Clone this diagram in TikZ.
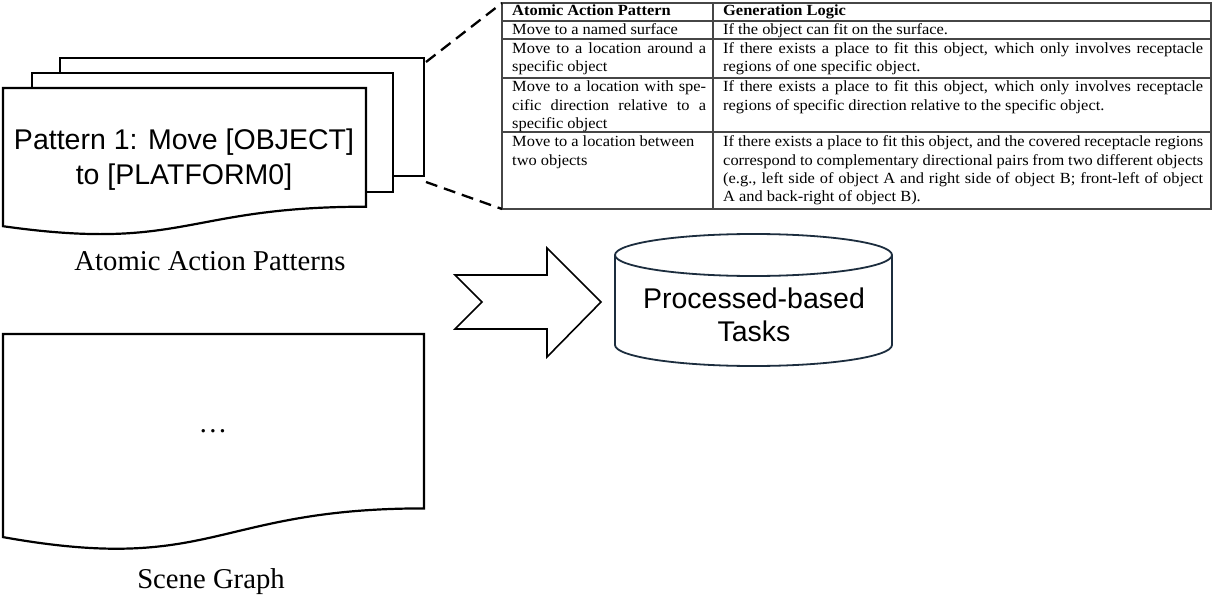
\documentclass[tikz,border=0pt]{standalone}
\usepackage{fontspec}
\setmainfont{Liberation Serif}
\newfontfamily\arialf{Liberation Sans}
\newfontfamily\tabfont[FakeStretch=1.06]{Liberation Serif}
\newcommand\jla[1]{\makebox[194pt][s]{#1}}
\newcommand\jlb[1]{\makebox[480pt][s]{#1}}
\definecolor{cylcol}{RGB}{28,45,62}
\definecolor{gridcol}{RGB}{70,70,70}
\tikzset{
  sheet/.style={draw=black, line width=2.2pt, fill=white, line join=miter},
  grid/.style={draw=gridcol, line width=1.1pt},
  tcell/.style={anchor=base west, inner sep=0pt, align=left,
    font=\tabfont\fontsize{15.5}{18.3}\selectfont,
    execute at begin node={\spaceskip=0.26em plus 0.5em minus 0.12em\relax}},
  colA/.style={tcell, text width=194pt},
  colB/.style={tcell, text width=480pt},
  sanslabel/.style={font=\arialf\fontsize{28.5}{35}\selectfont, align=center, inner sep=0pt},
  seriflabel/.style={font=\fontsize{28.7}{32}\selectfont, inner sep=0pt, anchor=base},
  zoomline/.style={draw=black, line width=2.3pt, dash pattern=on 12pt off 7pt},
  arrowshape/.style={draw=black, line width=1.6pt, fill=white, line join=miter},
  cyl/.style={draw=cylcol, line width=1.8pt, fill=white}
}
\begin{document}
\begin{tikzpicture}[x=1pt,y=-1pt]
\useasboundingbox (0,0) rectangle (1217,596);
% stacked pattern sheets
\draw[sheet] (60,58) rectangle (424,176);
\draw[sheet] (32,73) rectangle (393,192);
\draw[sheet] (3,88) -- (366,88) -- (366,206.7) .. controls (184.5,206.7) and (184.5,251.9) .. (3,226.2) -- cycle;
\node[sanslabel] (p1) at (184,160) {Pattern 1: Move [OBJECT]\\to [PLATFORM0]};
\node[seriflabel] (aap) at (210,270) {Atomic Action Patterns};
\coordinate (backTR) at (426,62);
\coordinate (backBR) at (426,182);
% scene graph
\draw[sheet] (3,334) -- (424,334) -- (424,508.4) .. controls (213.5,508.4) and (213.5,574.9) .. (3,537.1) -- cycle;
\node[seriflabel] (dots) at (213,432) {\ldots};
\node[seriflabel] (sg) at (211,588) {Scene Graph};
% table
\coordinate (tTL) at (502,3);
\coordinate (tBL) at (502,209);
\draw[grid] (502,3) rectangle (1211,209);
\draw[grid] (713,3) -- (713,209);
\foreach \yy in {21,39,78,132} { \draw[grid] (502,\yy) -- (1211,\yy); }
\node[colA] (h1) at (512,16) {\textbf{Atomic Action Pattern}};
\node[colB] (h2) at (723,16) {\textbf{Generation Logic}};
\node[colA] (a1) at (512,34.5) {Move to a named surface};
\node[colB] (b1) at (723,34.5) {If the object can fit on the surface.};
\node[colA] (a2) at (512,53.5) {\jla{Move to a location around a}\\specific object};
\node[colB] (b2) at (723,53.5) {\jlb{If there exists a place to fit this object, which only involves receptacle}\\regions of one specific object.};
\node[colA] (a3) at (512,92) {\jla{Move to a location with spe-}\\\jla{cific direction relative to a}\\specific object};
\node[colB] (b3) at (723,92) {\jlb{If there exists a place to fit this object, which only involves receptacle}\\regions of specific direction relative to the specific object.};
\node[colA] (a4) at (512,147) {Move to a location between\\two objects};
\node[colB] (b4) at (723,147) {\jlb{If there exists a place to fit this object, and the covered receptacle regions}\\\jlb{correspond to complementary directional pairs from two different objects}\\\jlb{(e.g., left side of object A and right side of object B; front-left of object}\\A and back-right of object B).};
% zoom lines
\draw[zoomline] (backTR) -- (tTL);
\draw[zoomline] (backBR) -- (tBL);
% block arrow
\draw[arrowshape] (455,275) -- (547,275) -- (547,248) -- (601,302) -- (547,357) -- (547,329) -- (455,329) -- (482,302) -- cycle;
% cylinder
\draw[cyl] (615,255) -- (615,345) arc[start angle=180, end angle=0, x radius=138.5, y radius=21] -- (892,255);
\draw[cyl] (753.5,255) ellipse [x radius=138.5, y radius=21];
\node[sanslabel, font=\arialf\fontsize{28.5}{33}\selectfont] (pbt) at (754,315) {Processed-based\\Tasks};
\end{tikzpicture}
\end{document}
